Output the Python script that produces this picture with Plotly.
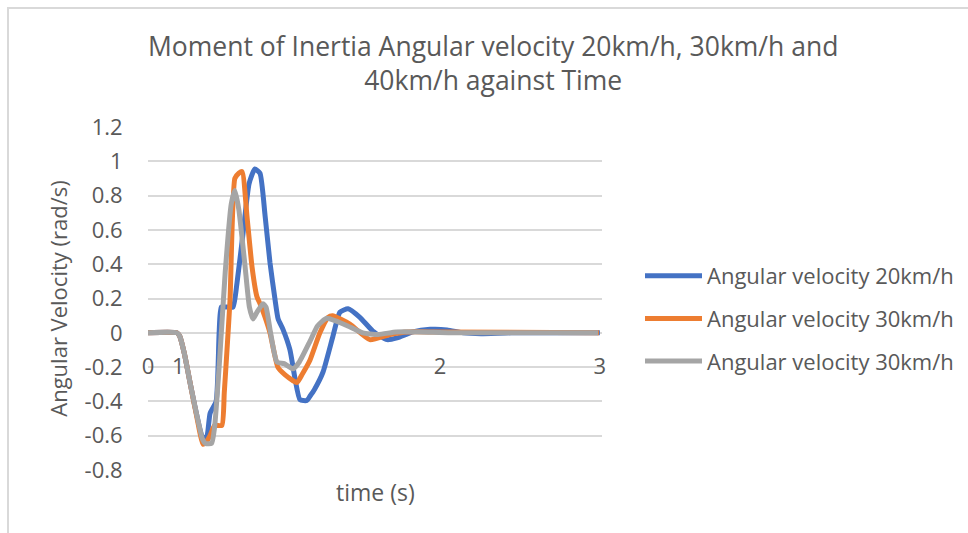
import plotly.graph_objects as go

# ---------------- data ----------------
title_text = "Moment of Inertia Angular velocity 20km/h, 30km/h and<br>40km/h against Time"
x_title = "time (s)"
y_title = "Angular Velocity (rad/s)"

series_names = ["Angular velocity 20km/h", "Angular velocity 30km/h", "Angular velocity 30km/h"]
series_colors = ["#4472C4", "#ED7D31", "#A5A5A5"]

# horizontal axis is a category-like sample index; labels as printed on the chart
x_tick_positions = [0, 10, 96.5, 149.3]
x_tick_labels = ["0", "1", "2", "3"]

y_tick_values = [-0.8, -0.6, -0.4, -0.2, 0, 0.2, 0.4, 0.6, 0.8, 1.0, 1.2]
y_tick_labels = ["-0.8", "-0.6", "-0.4", "-0.2", "0", "0.2", "0.4", "0.6", "0.8", "1", "1.2"]

sample_20 = [0, 9.5, 10.5, 12, 14, 16, 18.2, 19.5, 20.5, 22.5, 23.5, 24.2, 26, 28.1, 29.4, 31.4,
             33.4, 35.3, 37, 38.7, 40.3, 42, 43, 44.6, 46.9, 48.6, 50.2, 52.5, 53.5, 55, 57.8,
             61.1, 63.4, 66.1, 70, 74.3, 79, 82.3, 87.5, 93.2, 98.8, 104.1, 110, 120, 149.3]
vel_20 = [0, 0, -0.02, -0.12, -0.3, -0.47, -0.62, -0.6, -0.47, -0.4, 0.0, 0.15, 0.15, 0.15, 0.29, 0.58,
          0.87, 0.955, 0.93, 0.68, 0.41, 0.19, 0.08, 0.02, -0.1, -0.27, -0.39, -0.395, -0.37, -0.33, -0.23,
          -0.02, 0.12, 0.14, 0.09, 0.01, -0.04, -0.03, 0.005, 0.02, 0.017, 0.0, -0.005, 0.0, 0.0]

sample_30 = [0, 9.5, 10.5, 12, 14, 16, 18.2, 19.5, 20.5, 22, 24.4, 25.2, 26.1, 27.1, 28.7, 30, 31.1,
             32.7, 34.4, 36, 37, 38.5, 40.3, 42.9, 45.3, 49.2, 51, 53.5, 56.8, 59.5, 61, 66.7, 73.3,
             80, 85.6, 95, 149]
vel_30 = [0, 0, -0.02, -0.12, -0.3, -0.48, -0.65, -0.63, -0.6, -0.54, -0.54, -0.35, -0.1, 0.19, 0.9, 0.93, 0.94,
          0.68, 0.38, 0.21, 0.17, 0.1, 0.0, -0.2, -0.245, -0.29, -0.24, -0.16, 0.0, 0.09, 0.1, 0.05, -0.04,
          -0.01, 0.005, 0.005, 0.0]

sample_30b = [0, 9.5, 10.5, 12, 14, 16, 18, 19, 21, 22, 23.5, 25.5, 27.5, 28.7, 30, 32, 33.5, 34.7,
              36, 38, 39, 40.5, 42.6, 45, 47.9, 50, 53.5, 56, 59, 62, 66, 71, 76, 82, 90, 100, 148.7]
vel_30b = [0, 0, -0.02, -0.12, -0.3, -0.47, -0.62, -0.645, -0.645, -0.55, -0.2, 0.35, 0.75, 0.83, 0.72, 0.4,
           0.15, 0.08, 0.12, 0.17, 0.15, 0.0, -0.17, -0.18, -0.21, -0.17, -0.05, 0.04, 0.085, 0.07, 0.04,
           0.0, -0.01, 0.005, 0.005, 0.0, 0.0]

series_x = [sample_20, sample_30, sample_30b]
series_y = [vel_20, vel_30, vel_30b]

# ---------------- figure ----------------
TEXT = "#595959"
GRID = "#D9D9D9"
FONT = "Open Sans"

fig = go.Figure()
for i, (xs, ys) in enumerate(zip(series_x, series_y)):
    fig.add_trace(go.Scatter(
        x=xs, y=ys, mode="lines", name=series_names[i],
        legendgroup=f"g{i}",
        line=dict(color=series_colors[i], width=5, shape="spline", smoothing=0.5),
    ))

fig.update_layout(
    width=968, height=533,
    margin=dict(l=148, r=366, t=127, b=63, autoexpand=False),
    paper_bgcolor="white", plot_bgcolor="white",
    font=dict(family=FONT, color=TEXT, size=22),
    showlegend=True,
    legend=dict(x=(640 - 148) / 454, xanchor="left", y=(470 - 318.5) / 343, yanchor="middle",
                traceorder="grouped", tracegroupgap=11, itemwidth=57,
                font=dict(family=FONT, size=22, color=TEXT), bgcolor="rgba(0,0,0,0)"),
    xaxis=dict(range=[0, 150], showgrid=False, zeroline=False, showline=False,
               tickmode="array", tickvals=x_tick_positions, ticktext=x_tick_labels,
               anchor="free", position=(470 - 347) / 343,
               ticks="outside", ticklen=0, tickcolor="rgba(0,0,0,0)",
               tickfont=dict(family=FONT, size=22, color=TEXT)),
    yaxis=dict(range=[-0.8, 1.2], showgrid=True, gridcolor=GRID, gridwidth=1.5, zeroline=False,
               showline=False, tickmode="array", tickvals=y_tick_values, ticktext=y_tick_labels,
               ticks="outside", ticklen=20, tickcolor="rgba(0,0,0,0)",
               tickfont=dict(family=FONT, size=22, color=TEXT),
               title=dict(text=y_title, standoff=10, font=dict(family=FONT, size=22, color=TEXT))),
    annotations=[
        dict(text=title_text, x=(493 - 148) / 454, xref="paper", y=(470 - 63) / 343, yref="paper",
             xanchor="center", yanchor="middle", showarrow=False,
             font=dict(family=FONT, size=26.5, color=TEXT)),
        dict(text=x_title, x=0.5, xref="paper", y=(470 - 492) / 343, yref="paper",
             xanchor="center", yanchor="middle", showarrow=False,
             font=dict(family=FONT, size=23, color=TEXT)),
    ],
    shapes=[dict(type="rect", xref="paper", yref="paper",
                 x0=(8 - 148) / 454, x1=(990 - 148) / 454,
                 y0=(470 - 560) / 343, y1=(470 - 8) / 343,
                 line=dict(color=GRID, width=2), layer="below")],
)

fig.write_html("out.html")
